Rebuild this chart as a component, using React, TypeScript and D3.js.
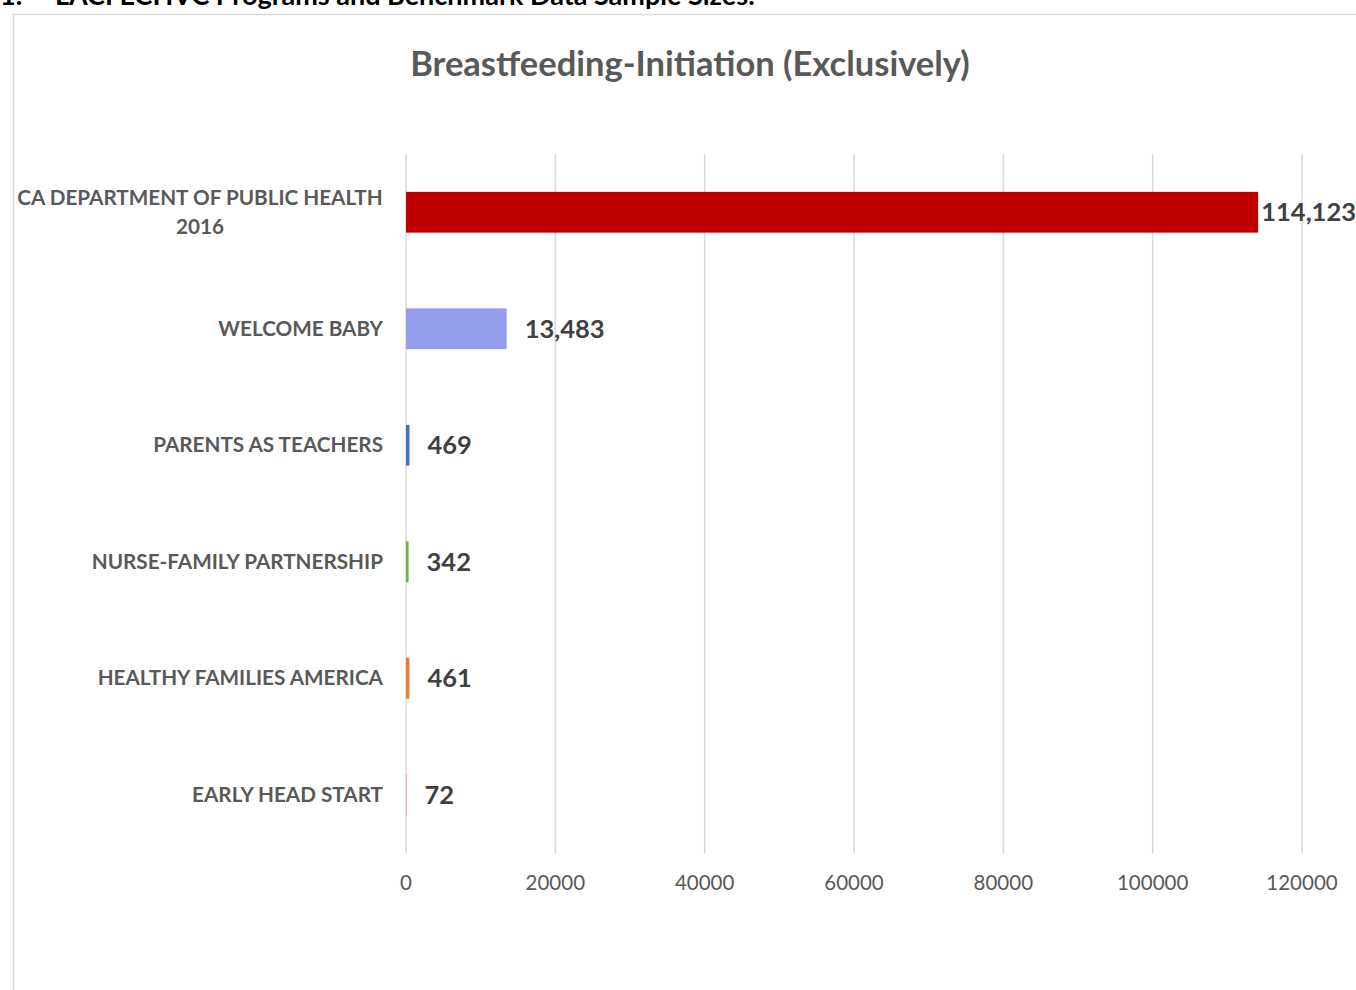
import React from "react";
import * as d3 from "d3";

const categories: string[][] = [
  ["CA DEPARTMENT OF PUBLIC HEALTH", "2016"],
  ["WELCOME BABY"],
  ["PARENTS AS TEACHERS"],
  ["NURSE-FAMILY PARTNERSHIP"],
  ["HEALTHY FAMILIES AMERICA"],
  ["EARLY HEAD START"],
];
const values: number[] = [114123, 13483, 469, 342, 461, 72];
const colors: string[] = ["#C00000", "#959CEB", "#4472C4", "#70AD47", "#ED7D31", "#FF9999"];
const tickValues: number[] = [0, 20000, 40000, 60000, 80000, 100000, 120000];
const title = "Breastfeeding-Initiation (Exclusively)";
const heading = "1.     LACI ECHVC Programs and Benchmark Data Sample Sizes:";

const W = 1356;
const H = 990;
const plotLeft = 406;
const plotRight = 1302;
const plotTop = 154;
const plotBottom = 853;
const FONT = "Lato, 'Open Sans', sans-serif";

export default function App() {
  const x = d3.scaleLinear().domain([0, 120000]).range([plotLeft, plotRight]);
  const y = d3
    .scaleBand<number>()
    .domain(d3.range(categories.length))
    .range([plotTop, plotBottom])
    .paddingInner(0.65)
    .paddingOuter(0.325);
  const fmt = d3.format(",");

  return (
    <svg
      width={W}
      height={H}
      style={{ position: "absolute", left: 0, top: 0, background: "#fff" }}
      fontFamily={FONT}
    >
      <rect x={0} y={0} width={W} height={H} fill="#fff" />
      <text x={0} y={5} fontSize={27} fontWeight={700} fill="#000" style={{ whiteSpace: "pre" }}>
        {heading}
      </text>
      <path d={`M13.5,${H} V14.5 H${W}`} fill="none" stroke="#d9d9d9" strokeWidth={1.5} />
      <text x={690} y={76} textAnchor="middle" fontSize={34.5} fontWeight={700} fill="#595959">
        {title}
      </text>
      {tickValues.map((t) => (
        <g key={t}>
          <line x1={x(t)} x2={x(t)} y1={plotTop} y2={plotBottom} stroke="#d9d9d9" strokeWidth={1.5} />
          <text x={x(t)} y={890} textAnchor="middle" fontSize={20.5} fill="#595959">
            {t}
          </text>
        </g>
      ))}
      {values.map((v, i) => {
        const y0 = y(i)!;
        const bw = y.bandwidth();
        const end = x(v);
        const overflow = end + 18 + 100 > W;
        const lx = overflow ? W : end + 18;
        const lines = categories[i];
        const lh = 29;
        const cy = y0 + bw / 2;
        return (
          <g key={i}>
            <rect x={x(0)} y={y0} width={Math.max(end - x(0), 0.8)} height={bw} fill={colors[i]} />
            <text
              x={lx}
              y={cy + 9}
              textAnchor={overflow ? "end" : "start"}
              fontSize={25.5}
              fontWeight={700}
              fill="#404040"
            >
              {fmt(v)}
            </text>
            {lines.map((l, k) => (
              <text
                key={k}
                x={lines.length > 1 ? 200 : 383}
                y={cy + 7 + (k - (lines.length - 1) / 2) * lh}
                textAnchor={lines.length > 1 ? "middle" : "end"}
                fontSize={20.7}
                fontWeight={700}
                fill="#595959"
              >
                {l}
              </text>
            ))}
          </g>
        );
      })}
    </svg>
  );
}
